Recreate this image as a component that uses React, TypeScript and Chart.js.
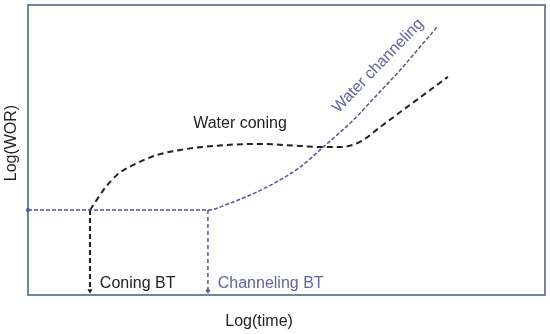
import { useEffect, useRef } from "react";
import { Chart, registerables } from "chart.js";

Chart.register(...registerables);

// Water coning curve (black dashed)
const coningX = [1.2, 1.49, 1.72, 2.03, 2.5, 2.94, 3.58, 4.43, 5.26, 5.71, 6.03, 6.42, 6.81, 7.33, 7.78, 8.12];
const coningY = [2.93, 3.69, 4.14, 4.48, 4.83, 5.0, 5.14, 5.21, 5.14, 5.1, 5.1, 5.28, 5.79, 6.48, 7.07, 7.52];

// Water channeling curve (purple dashed)
const channelX = [0, 3.48, 3.91, 4.62, 5.26, 5.71, 6.29, 6.75, 7.2, 7.58, 7.93];
const channelY = [2.93, 2.93, 3.17, 3.72, 4.41, 5.1, 6.03, 6.9, 7.76, 8.55, 9.28];

// Breakthrough markers
const coningBT = 1.2;
const channelingBT = 3.48;
const btLevel = 2.93;
const axisFloor = 0.15;

// Text labels
const labelTexts = ["Water coning", "Water channeling", "Coning BT", "Channeling BT", "Log(time)", "Log(WOR)"];
const labelX = [4.1, 6.77, 1.39, 3.67, 4.47, -0.31];
const labelY = [5.9, 7.9, 0.41, 0.41, -0.93, 5.24];

const BLACK = "#222222";
const PURPLE = "#55559e";
const PURPLE_TEXT = "#6262aa";
const BORDER = "#6f86a0";
const FONT = "16px 'Liberation Sans', Arial, sans-serif";

const pts = (xs: number[], ys: number[]) => xs.map((x, i) => ({ x, y: ys[i] }));

export default function App() {
  const ref = useRef<HTMLCanvasElement>(null);

  useEffect(() => {
    document.body.style.margin = "0";
    const canvas = ref.current;
    if (!canvas) return;

    const frame = {
      id: "frame",
      beforeDatasetsDraw(chart: any) {
        const { ctx, chartArea } = chart;
        ctx.save();
        ctx.strokeStyle = BORDER;
        ctx.lineWidth = 2;
        ctx.strokeRect(chartArea.left, chartArea.top, chartArea.right - chartArea.left, chartArea.bottom - chartArea.top);
        ctx.restore();
      },
      afterDatasetsDraw(chart: any) {
        const { ctx } = chart;
        const xs = chart.scales.x;
        const ys = chart.scales.y;
        const draw = (i: number, color: string, align: CanvasTextAlign, rot: number) => {
          const px = xs.getPixelForValue(labelX[i]);
          const py = ys.getPixelForValue(labelY[i]);
          ctx.save();
          ctx.translate(px, py);
          ctx.rotate(rot);
          ctx.font = FONT;
          ctx.fillStyle = color;
          ctx.textAlign = align;
          ctx.textBaseline = "middle";
          ctx.fillText(labelTexts[i], 0, 0);
          ctx.restore();
        };
        draw(0, BLACK, "center", 0);
        draw(1, PURPLE_TEXT, "center", (-46 * Math.PI) / 180);
        draw(2, BLACK, "left", 0);
        draw(3, PURPLE_TEXT, "left", 0);
        draw(4, BLACK, "center", 0);
        draw(5, BLACK, "center", -Math.PI / 2);
      },
    };

    const chart = new Chart(canvas, {
      type: "scatter",
      data: {
        datasets: [
          {
            data: pts(channelX, channelY),
            showLine: true,
            borderColor: PURPLE,
            borderWidth: 1.5,
            borderDash: [4, 2],
            cubicInterpolationMode: "monotone",
            pointRadius: channelX.map((_, i) => (i === 0 ? 2 : 0)),
            pointBackgroundColor: PURPLE,
            pointBorderWidth: 0,
            clip: false,
          },
          {
            data: pts(coningX, coningY),
            showLine: true,
            borderColor: BLACK,
            borderWidth: 2,
            borderDash: [6, 4],
            cubicInterpolationMode: "monotone",
            pointRadius: 0,
            clip: false,
          },
          {
            data: pts([coningBT, coningBT], [btLevel, axisFloor]),
            showLine: true,
            borderColor: BLACK,
            borderWidth: 2,
            borderDash: [5, 3],
            pointRadius: [0, 3],
            pointStyle: "triangle",
            rotation: 180,
            pointBackgroundColor: BLACK,
            pointBorderWidth: 0,
            clip: false,
          },
          {
            data: pts([channelingBT, channelingBT], [btLevel, axisFloor]),
            showLine: true,
            borderColor: PURPLE,
            borderWidth: 1.5,
            borderDash: [4, 3],
            pointRadius: [0, 2.5],
            pointStyle: "rectRot",
            pointBackgroundColor: PURPLE,
            pointBorderWidth: 0,
            clip: false,
          },
        ],
      },
      options: {
        responsive: false,
        animation: false,
        layout: { padding: { left: 28, top: 5, right: 5, bottom: 39 } },
        plugins: { legend: { display: false }, tooltip: { enabled: false } },
        scales: {
          x: { type: "linear", min: 0, max: 10, display: false },
          y: { type: "linear", min: 0, max: 10, display: false },
        },
      },
      plugins: [frame],
    });

    return () => chart.destroy();
  }, []);

  return (
    <div style={{ width: 550, height: 334, background: "#fff" }}>
      <canvas ref={ref} width={550} height={334} />
    </div>
  );
}
